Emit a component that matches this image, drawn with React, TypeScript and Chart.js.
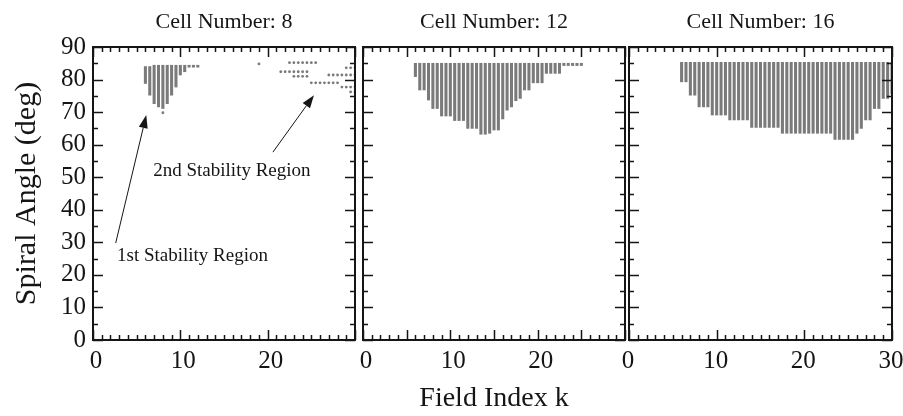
import React, { useEffect, useRef } from 'react';
import { Chart, registerables } from 'chart.js';

Chart.register(...registerables);

const FONT = "'Liberation Serif', 'Times New Roman', serif";
const INK = '#151515';
const DOT = '#7a7a7a';

// ---- axis labels ----
const xTickValues = [0, 10, 20, 30];
const yTickValues = [0, 10, 20, 30, 40, 50, 60, 70, 80, 90];
const panelTitles = ['Cell Number: 8', 'Cell Number: 12', 'Cell Number: 16'];

// ---- Cell Number 8: dense columns (field index k, lowest and highest angle) ----
const cell8ColK = [6, 6.5, 7, 7.5, 8, 8.5, 9, 9.5, 10, 10.5, 11, 11.5, 12];
const cell8ColLow = [78.8, 75.2, 72.6, 71.6, 71.1, 72.6, 75.2, 77.7, 81.4, 82.4, 83.8, 83.8, 83.8];
const cell8ColHigh = [84.0, 84.0, 84.4, 84.4, 84.4, 84.4, 84.4, 84.4, 84.4, 84.4, 84.4, 84.4, 84.4];
// ---- Cell Number 8: isolated points ----
const cell8DotK = [
  8, 19,
  22.5, 23, 23.5, 24, 24.5, 25, 25.5,
  21.5, 22, 22.5, 23, 23.5, 24, 24.5,
  23, 23.5, 24, 24.5,
  25, 25.5, 26, 26.5, 27, 27.5, 28,
  29, 29.5, 30,
  27, 27.5, 28, 28.5, 29, 29.5, 30,
  28.5, 29, 29.5, 30,
  29.5, 30,
];
const cell8DotAngle = [
  69.8, 84.8,
  85.2, 85.2, 85.2, 85.2, 85.2, 85.2, 85.2,
  82.4, 82.4, 82.4, 82.4, 82.4, 82.4, 82.4,
  81.0, 81.0, 81.0, 81.0,
  79.0, 79.0, 79.0, 79.0, 79.0, 79.0, 79.0,
  83.6, 83.6, 83.6,
  81.4, 81.4, 81.4, 81.4, 81.4, 81.4, 81.4,
  77.7, 77.7, 77.7, 77.7,
  76.2, 76.2,
];

// ---- Cell Number 12 ----
const cell12ColK = [
  6, 6.5, 7, 7.5, 8, 8.5, 9, 9.5, 10, 10.5, 11, 11.5, 12, 12.5, 13, 13.5, 14, 14.5, 15, 15.5,
  16, 16.5, 17, 17.5, 18, 18.5, 19, 19.5, 20, 20.5, 21, 21.5, 22, 22.5, 23, 23.5, 24, 24.5, 25,
];
const cell12ColLow = [
  80.9, 76.8, 76.8, 73.7, 71.1, 71.1, 68.8, 68.8, 68.8, 67.4, 67.4, 67.4, 65.0, 65.0, 65.0, 63.2, 63.2, 63.5, 64.5, 64.5,
  67.9, 70.6, 71.6, 73.5, 74.2, 76.8, 76.8, 79.0, 79.0, 79.0, 81.9, 81.9, 81.9, 81.9, 84.3, 84.3, 84.3, 84.3, 84.3,
];
const cell12ColHigh = [
  85.0, 85.0, 85.0, 85.0, 85.0, 85.0, 85.0, 85.0, 85.0, 85.0, 85.0, 85.0, 85.0, 85.0, 85.0, 85.0, 85.0, 85.0, 85.0, 85.0,
  85.0, 85.0, 85.0, 85.0, 85.0, 85.0, 85.0, 85.0, 85.0, 85.0, 85.0, 85.0, 85.0, 85.0, 85.0, 85.0, 85.0, 85.0, 85.0,
];

// ---- Cell Number 16 ----
const cell16ColK = [
  6, 6.5, 7, 7.5, 8, 8.5, 9, 9.5, 10, 10.5, 11, 11.5, 12, 12.5, 13, 13.5, 14, 14.5, 15, 15.5,
  16, 16.5, 17, 17.5, 18, 18.5, 19, 19.5, 20, 20.5, 21, 21.5, 22, 22.5, 23, 23.5, 24, 24.5, 25, 25.5,
  26, 26.5, 27, 27.5, 28, 28.5, 29, 29.5, 30,
];
const cell16ColLow = [
  79.3, 79.3, 75.2, 75.2, 71.6, 71.6, 71.6, 69.1, 69.1, 69.1, 69.1, 67.6, 67.6, 67.6, 67.6, 67.6, 65.3, 65.3, 65.3, 65.3,
  65.3, 65.3, 65.3, 63.5, 63.5, 63.5, 63.5, 63.5, 63.5, 63.5, 63.5, 63.5, 63.5, 63.5, 63.5, 61.6, 61.6, 61.6, 61.6, 61.6,
  63.5, 65.0, 67.6, 67.6, 71.1, 71.1, 74.2, 74.2, 75.6,
];
const cell16ColHigh = [
  85.3, 85.3, 85.3, 85.3, 85.3, 85.3, 85.3, 85.3, 85.3, 85.3, 85.3, 85.3, 85.3, 85.3, 85.3, 85.3, 85.3, 85.3, 85.3, 85.3,
  85.3, 85.3, 85.3, 85.3, 85.3, 85.3, 85.3, 85.3, 85.3, 85.3, 85.3, 85.3, 85.3, 85.3, 85.3, 85.3, 85.3, 85.3, 85.3, 85.3,
  85.3, 85.3, 85.3, 85.3, 85.3, 85.3, 85.3, 85.3, 85.3,
];

// ---- annotations in panel 1 (data units: k, angle) ----
const annoLabels = ['1st Stability Region', '2nd Stability Region'];
const annoTextK = [2.75, 6.9];
const annoTextAngle = [25.8, 51.9];
const arrowFromK = [2.6, 20.6];
const arrowFromAngle = [29.8, 57.7];
const arrowToK = [6.1, 25.3];
const arrowToAngle = [69.1, 75.2];

type Panel = {
  title: string;
  colK: number[];
  colLow: number[];
  colHigh: number[];
  dotK: number[];
  dotAngle: number[];
  left: number;
  right: number;
  xMajor: number;
  showY: boolean;
  showXTitle: boolean;
  xLabels: number[];
  labelShift: number;
  annotate: boolean;
};

const panels: Panel[] = [
  {
    title: panelTitles[0], colK: cell8ColK, colLow: cell8ColLow, colHigh: cell8ColHigh,
    dotK: cell8DotK, dotAngle: cell8DotAngle, left: 93, right: 355, xMajor: 10,
    showY: true, showXTitle: false, xLabels: xTickValues.slice(0, 3), labelShift: 3, annotate: true,
  },
  {
    title: panelTitles[1], colK: cell12ColK, colLow: cell12ColLow, colHigh: cell12ColHigh,
    dotK: [], dotAngle: [], left: 363, right: 625, xMajor: 5,
    showY: false, showXTitle: true, xLabels: xTickValues.slice(0, 3), labelShift: 3, annotate: false,
  },
  {
    title: panelTitles[2], colK: cell16ColK, colLow: cell16ColLow, colHigh: cell16ColHigh,
    dotK: [], dotAngle: [], left: 629, right: 892, xMajor: 10,
    showY: false, showXTitle: false, xLabels: xTickValues, labelShift: -1, annotate: false,
  },
];

const W = 903;
const H = 416;
const PLOT_BOTTOM = 340;

const frameTicksPlugin = {
  id: 'frameTicks',
  afterDatasetsDraw(chart: any, _args: any, opts: any) {
    const { ctx, chartArea, scales } = chart;
    const { left, right, top, bottom } = chartArea;
    const xs = scales.x;
    const ys = scales.y;
    ctx.save();
    ctx.strokeStyle = INK;
    ctx.lineWidth = 1.5;
    ctx.beginPath();
    for (let v = 0; v <= 30; v += 1) {
      const px = Math.round(xs.getPixelForValue(v)) + 0.5;
      const len = v % opts.xMajor === 0 ? 10 : 5;
      ctx.moveTo(px, bottom);
      ctx.lineTo(px, bottom - len);
      ctx.moveTo(px, top);
      ctx.lineTo(px, top + len);
    }
    for (let v = 0; v <= 90; v += 5) {
      const py = Math.round(ys.getPixelForValue(v)) + 0.5;
      const len = v % 10 === 0 ? 10 : 5;
      ctx.moveTo(left, py);
      ctx.lineTo(left + len, py);
      ctx.moveTo(right, py);
      ctx.lineTo(right - len, py);
    }
    ctx.stroke();
    ctx.lineWidth = 2;
    ctx.strokeRect(left, top, right - left, bottom - top);
    ctx.restore();
  },
};

const annotationPlugin = {
  id: 'stabilityNotes',
  afterDatasetsDraw(chart: any, _args: any, opts: any) {
    if (!opts || !opts.enabled) return;
    const { ctx, scales } = chart;
    const xs = scales.x;
    const ys = scales.y;
    ctx.save();
    ctx.fillStyle = INK;
    ctx.strokeStyle = INK;
    ctx.lineWidth = 1;
    ctx.font = `19px ${FONT}`;
    ctx.textBaseline = 'middle';
    ctx.textAlign = 'left';
    for (let i = 0; i < annoLabels.length; i++) {
      ctx.fillText(annoLabels[i], xs.getPixelForValue(annoTextK[i]), ys.getPixelForValue(annoTextAngle[i]));
      const x0 = xs.getPixelForValue(arrowFromK[i]);
      const y0 = ys.getPixelForValue(arrowFromAngle[i]);
      const x1 = xs.getPixelForValue(arrowToK[i]);
      const y1 = ys.getPixelForValue(arrowToAngle[i]);
      const ang = Math.atan2(y1 - y0, x1 - x0);
      const headLen = 13;
      const headHalf = 4.5;
      const bx = x1 - headLen * Math.cos(ang);
      const by = y1 - headLen * Math.sin(ang);
      ctx.beginPath();
      ctx.moveTo(x0, y0);
      ctx.lineTo(bx, by);
      ctx.stroke();
      ctx.beginPath();
      ctx.moveTo(x1, y1);
      ctx.lineTo(bx + headHalf * Math.sin(ang), by - headHalf * Math.cos(ang));
      ctx.lineTo(bx - headHalf * Math.sin(ang), by + headHalf * Math.cos(ang));
      ctx.closePath();
      ctx.fill();
    }
    ctx.restore();
  },
};

function PanelChart({ panel }: { panel: Panel }) {
  const ref = useRef<HTMLCanvasElement | null>(null);
  useEffect(() => {
    if (!ref.current) return;
    const bars = panel.colK.map((k, i) => ({ x: k, y: [panel.colLow[i], panel.colHigh[i]] }));
    const dots = panel.dotK.map((k, i) => ({ x: k, y: panel.dotAngle[i] }));
    const chart = new Chart(ref.current, {
      type: 'bar',
      data: {
        datasets: [
          {
            type: 'bar',
            data: bars as any,
            backgroundColor: DOT,
            borderWidth: 0,
            barThickness: 2.4,
            grouped: false,
          } as any,
          {
            type: 'scatter',
            data: dots,
            pointRadius: 1.4,
            pointBackgroundColor: DOT,
            pointBorderWidth: 0,
            showLine: false,
          } as any,
        ],
      },
      options: {
        responsive: false,
        animation: false,
        events: [],
        layout: {
          padding: { left: panel.showY ? 0 : panel.left, right: W - panel.right, top: 0, bottom: 0 },
        },
        plugins: {
          legend: { display: false },
          tooltip: { enabled: false },
          title: {
            display: true,
            text: panel.title,
            fullSize: false,
            color: INK,
            font: { family: FONT, size: 22, weight: 'normal' },
            padding: { top: 9, bottom: 11.6 },
          },
          frameTicks: { xMajor: panel.xMajor },
          stabilityNotes: { enabled: panel.annotate },
        } as any,
        scales: {
          x: {
            type: 'linear',
            min: 0,
            max: 30,
            offset: false,
            grid: { display: false, drawTicks: false },
            border: { display: false },
            afterBuildTicks: (s: any) => {
              s.ticks = panel.xLabels.map((v) => ({ value: v }));
            },
            afterFit: (s: any) => {
              s.height = H - PLOT_BOTTOM;
              s.paddingLeft = 0;
              s.paddingRight = 0;
            },
            ticks: {
              color: INK,
              font: { family: FONT, size: 25 },
              padding: 6,
              labelOffset: panel.labelShift,
              maxRotation: 0,
              autoSkip: false,
            },
            title: {
              display: panel.showXTitle,
              text: 'Field Index k',
              color: INK,
              font: { family: FONT, size: 28 },
              padding: { top: 0, bottom: 1 },
            },
          },
          y: {
            type: 'linear',
            min: 0,
            max: 90,
            display: panel.showY,
            grid: { display: false, drawTicks: false },
            border: { display: false },
            afterBuildTicks: (s: any) => {
              s.ticks = yTickValues.map((v) => ({ value: v }));
            },
            afterFit: (s: any) => {
              s.width = panel.showY ? panel.left : 0;
              s.paddingTop = 0;
              s.paddingBottom = 0;
            },
            ticks: {
              color: INK,
              font: { family: FONT, size: 25 },
              padding: 7,
              autoSkip: false,
            },
            title: {
              display: true,
              text: 'Spiral Angle (deg)',
              color: INK,
              font: { family: FONT, size: 30 },
              padding: { top: 9, bottom: 0 },
            },
          },
        } as any,
      },
      plugins: [frameTicksPlugin, annotationPlugin],
    } as any);
    return () => chart.destroy();
  }, [panel]);
  return (
    <canvas
      ref={ref}
      width={W}
      height={H}
      style={{ position: 'absolute', left: 0, top: 0, width: W, height: H, display: 'block' }}
    />
  );
}

export default function App() {
  return (
    <div style={{ position: 'absolute', left: 0, top: 0, width: W, height: H, background: '#fff' }}>
      {panels.map((p) => (
        <PanelChart key={p.title} panel={p} />
      ))}
    </div>
  );
}
